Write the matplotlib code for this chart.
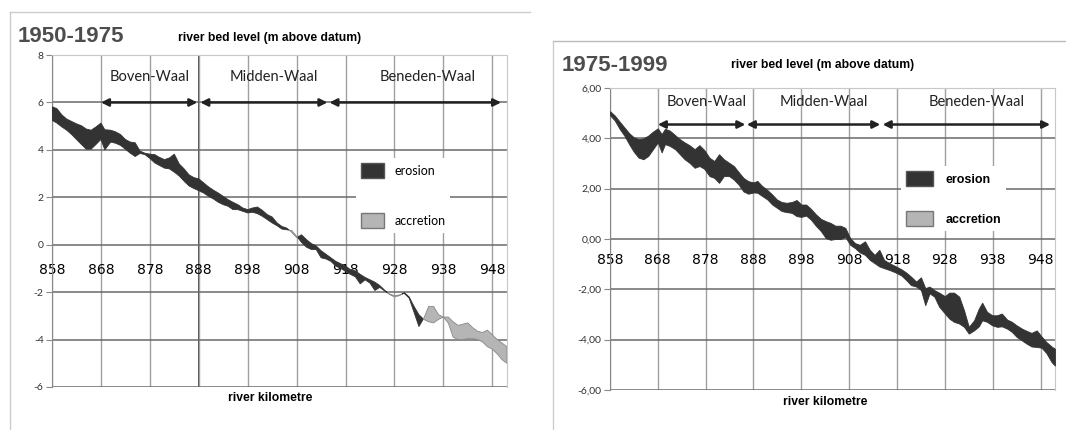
import matplotlib
matplotlib.use('Agg')
import matplotlib.pyplot as plt
from matplotlib.patches import Patch
from matplotlib.lines import Line2D

# ---- data (river km, bed level m above datum) ----
km_a = [858, 859, 860, 861, 862, 863, 864, 865, 866, 867, 868, 868.8, 870, 871,
        872, 873, 874, 875, 876, 877, 878, 879, 880, 881, 882, 883, 884, 885,
        886, 887, 888, 889, 890, 891, 892, 893, 894, 895, 896, 897, 898, 899,
        900, 901, 902, 903, 904, 905, 906, 907, 908, 909, 910, 911, 912, 913,
        914, 915, 916, 917, 918, 919, 920, 921, 922, 923, 924, 925, 926, 927,
        928, 929, 930, 931, 932, 933, 934, 935, 936, 937, 938, 939, 940, 941,
        942, 943, 944, 945, 946, 947, 948, 949, 950, 951]
level_1950 = [5.82, 5.74, 5.48, 5.30, 5.20, 5.10, 5.02, 4.88, 4.83, 4.97, 5.13,
              4.85, 4.83, 4.76, 4.65, 4.44, 4.33, 4.30, 3.95, 3.86, 3.82, 3.80,
              3.68, 3.59, 3.66, 3.82, 3.41, 3.20, 2.95, 2.83, 2.78, 2.61, 2.44,
              2.30, 2.18, 2.04, 1.90, 1.79, 1.69, 1.55, 1.48, 1.55, 1.59, 1.45,
              1.27, 1.17, 0.92, 0.77, 0.70, 0.52, 0.30, 0.42, 0.22, 0.05, -0.05,
              -0.25, -0.40, -0.55, -0.70, -0.80, -0.90, -1.05, -1.10, -1.25,
              -1.38, -1.48, -1.58, -1.72, -1.92, -2.10, -2.20, -2.15, -2.02,
              -2.20, -2.60, -2.95, -3.15, -3.25, -3.30, -3.15, -3.05, -3.30,
              -3.90, -4.00, -4.00, -3.95, -3.95, -4.00, -4.10, -4.30, -4.40,
              -4.60, -4.85, -5.00]
level_1975a = [5.25, 5.13, 4.97, 4.83, 4.65, 4.44, 4.23, 4.03, 4.03, 4.23, 4.44,
               4.00, 4.33, 4.28, 4.19, 4.03, 3.86, 3.72, 3.85, 3.80, 3.64, 3.45,
               3.34, 3.23, 3.20, 3.06, 2.90, 2.68, 2.48, 2.37, 2.28, 2.18, 2.04,
               1.93, 1.79, 1.69, 1.62, 1.48, 1.48, 1.41, 1.34, 1.37, 1.31, 1.20,
               1.06, 0.92, 0.80, 0.66, 0.63, 0.60, 0.36, 0.10, -0.10, -0.20,
               -0.20, -0.55, -0.60, -0.70, -0.90, -1.00, -1.12, -1.25, -1.35,
               -1.65, -1.48, -1.62, -1.93, -1.80, -1.95, -2.08, -2.15, -2.12,
               -2.05, -2.25, -2.85, -3.45, -3.10, -2.60, -2.60, -2.95, -3.05,
               -3.05, -3.25, -3.40, -3.35, -3.30, -3.50, -3.65, -3.70, -3.60,
               -3.80, -4.00, -4.15, -4.30]

km_b = [858, 859, 860, 861, 862, 863, 864, 865, 866, 867, 868, 868.8, 869.5,
        870.5, 871.6, 872.6, 873.6, 874.6, 875.7, 876.7, 877.7, 878.8, 879.8,
        880.8, 881.8, 882.9, 883.9, 884.9, 885.9, 886.9, 888, 888.8, 889.8,
        890.9, 891.9, 892.9, 893.9, 894.9, 896, 897, 898, 899, 900, 901.1,
        902.1, 903.1, 904.1, 905.1, 906.2, 907.2, 908.2, 909.2, 910.2, 911.3,
        912.3, 913.3, 914.3, 915.3, 916.4, 917.7, 918.9, 919.9, 920.9, 922,
        923, 923.9, 924.8, 925.8, 926.8, 928, 928.9, 929.9, 931, 932, 933,
        934.1, 935.1, 935.8, 936.8, 937.9, 938.9, 939.9, 941, 942, 943, 944.1,
        945.1, 946.1, 947.2, 948.2, 949.2, 950.3, 951]
level_1975b = [5.08, 4.91, 4.67, 4.44, 4.21, 4.04, 3.97, 4.00, 4.11, 4.27, 4.40,
               4.17, 4.38, 4.31, 4.13, 3.97, 3.84, 3.73, 3.57, 3.73, 3.54, 3.23,
               3.10, 3.37, 3.17, 3.03, 2.90, 2.66, 2.43, 2.30, 2.25, 2.31, 2.11,
               1.95, 1.77, 1.57, 1.47, 1.44, 1.47, 1.55, 1.37, 1.37, 1.20, 0.97,
               0.80, 0.71, 0.64, 0.53, 0.53, 0.44, 0.04, -0.16, -0.23, -0.09,
               -0.43, -0.63, -0.43, -0.83, -0.96, -1.08, -1.20, -1.33, -1.49,
               -1.69, -1.52, -1.95, -1.89, -2.03, -2.13, -2.27, -2.13, -2.13,
               -2.29, -2.83, -3.49, -3.23, -2.76, -2.53, -2.89, -3.03, -3.03,
               -2.96, -3.20, -3.29, -3.43, -3.56, -3.65, -3.73, -3.63, -3.87,
               -4.09, -4.27, -4.36]
level_1999 = [4.92, 4.71, 4.38, 4.11, 3.77, 3.46, 3.23, 3.17, 3.30, 3.57, 3.84,
              3.44, 3.77, 3.70, 3.57, 3.37, 3.17, 3.03, 2.83, 2.90, 2.79, 2.50,
              2.43, 2.23, 2.50, 2.50, 2.36, 2.16, 1.89, 1.80, 1.85, 1.84, 1.71,
              1.57, 1.37, 1.24, 1.11, 1.07, 1.04, 0.91, 0.88, 0.93, 0.77, 0.51,
              0.31, 0.04, -0.03, 0.00, 0.00, 0.08, -0.23, -0.36, -0.53, -0.63,
              -0.83, -0.96, -1.09, -1.16, -1.23, -1.33, -1.45, -1.63, -1.83,
              -1.89, -2.03, -2.63, -2.16, -2.29, -2.69, -2.96, -3.16, -3.29,
              -3.36, -3.49, -3.76, -3.63, -3.47, -3.23, -3.29, -3.43, -3.49,
              -3.47, -3.56, -3.69, -3.89, -4.03, -4.16, -4.27, -4.29, -4.32,
              -4.53, -4.89, -5.03]

reaches = ['Boven-Waal', 'Midden-Waal', 'Beneden-Waal']
reach_ends_a = [(868, 887.7), (888.3, 914.3), (914.7, 949.8)]
reach_label_km_a = [878, 903.3, 934.7]
reach_ends_b = [(868, 886.3), (886.6, 914.5), (915, 950)]
reach_label_km_b = [878.2, 902.6, 934.7]

xticks = list(range(858, 949, 10))

DARK = '#333333'
LIGHT = '#b5b5b5'
NARROW = ['Liberation Sans Narrow', 'Liberation Sans', 'DejaVu Sans']
BODY = ['Lato', 'DejaVu Sans']

fig = plt.figure(figsize=(10.66, 4.30), dpi=100)


def draw_panel(ax, km, old, new, yticks, ylabels, ends, label_km,
               arrow_y, text_y, label_pad, grid888=False):
    ax.fill_between(km, old, new, where=[n <= o for o, n in zip(old, new)],
                    interpolate=True, facecolor=DARK, edgecolor=DARK,
                    lw=0.6, zorder=3)
    ax.fill_between(km, old, new, where=[n > o for o, n in zip(old, new)],
                    interpolate=True, facecolor=LIGHT, edgecolor='#888888',
                    lw=0.6, zorder=3)

    ax.set_xlim(858, 951)
    ax.set_ylim(yticks[0], yticks[-1])
    ax.set_xticks(xticks)
    ax.set_yticks(yticks)
    ax.set_yticklabels(ylabels, fontsize=7.5, color='#333333', family=BODY)
    ax.set_xticklabels([str(k) for k in xticks], fontsize=8.5,
                       color='#333333', family=BODY)

    ax.grid(axis='y', color='#6a6a6a', lw=1.1, zorder=1)
    ax.grid(axis='x', color='#a0a0a0', lw=1.0, zorder=1)
    if grid888:
        ax.axvline(888, color='#3a3a3a', lw=1.3, zorder=1)

    ax.spines['bottom'].set_position(('data', 0))
    ax.spines['bottom'].set_visible(False)
    ax.tick_params(axis='x', length=0, pad=label_pad)
    ax.tick_params(axis='y', length=4, color='#888888', width=0.8, pad=2)
    ax.spines['left'].set_color('#888888')
    ax.spines['top'].set_color('#c8c8c8')
    ax.spines['right'].set_color('#c8c8c8')

    for name, (a, b), lk in zip(reaches, ends, label_km):
        ax.annotate('', xy=(b, arrow_y), xytext=(a, arrow_y),
                    arrowprops=dict(arrowstyle='<|-|>', color='#222222',
                                    lw=1.8, mutation_scale=11,
                                    shrinkA=0, shrinkB=0), zorder=4)
        ax.text(lk, text_y, name, ha='center', va='center', fontsize=10.5,
                color='#222222', family=BODY, zorder=4)


# ---- left panel: 1950-1975 ----
ax1 = fig.add_axes([0.0488, 0.10, 0.4268, 0.772])
draw_panel(ax1, km_a, level_1950, level_1975a,
           [-6, -4, -2, 0, 2, 4, 6, 8],
           ['-6', '-4', '-2', '0', '2', '4', '6', '8'],
           reach_ends_a, reach_label_km_a, 6, 7.08, 13, grid888=True)
leg1 = ax1.legend([Patch(facecolor=DARK, edgecolor='#555555'),
                   Patch(facecolor=LIGHT, edgecolor='#777777')],
                  ['erosion', 'accretion'], loc='upper left',
                  bbox_to_anchor=(0.3283, 0.6465), bbox_transform=fig.transFigure,
                  prop={'family': BODY, 'size': 9}, frameon=True,
                  facecolor='white', edgecolor='none', framealpha=1,
                  fancybox=False, handlelength=1.85, handleheight=1.45,
                  labelspacing=2.8, handletextpad=0.8, borderpad=0.4)
leg1.set_zorder(5)

fig.text(0.0169, 0.916, '1950-1975', fontsize=16, fontweight='bold',
         color='#4d4d4d', family=NARROW, va='center', ha='left')
fig.text(0.2533, 0.912, 'river bed level (m above datum)', fontsize=8.7,
         fontweight='bold', family=NARROW, ha='center', va='center')
fig.text(0.2533, 0.074, 'river kilometre', fontsize=8.7, fontweight='bold',
         family=NARROW, ha='center', va='center')

# ---- right panel: 1975-1999 ----
ax2 = fig.add_axes([0.5722, 0.093, 0.4174, 0.7023])
draw_panel(ax2, km_b, level_1975b, level_1999,
           [-6, -4, -2, 0, 2, 4, 6],
           ['-6,00', '-4,00', '-2,00', '0,00', '2,00', '4,00', '6,00'],
           reach_ends_b, reach_label_km_b, 4.55, 5.45, 10)
leg2 = ax2.legend([Patch(facecolor=DARK, edgecolor='#555555'),
                   Patch(facecolor=LIGHT, edgecolor='#777777')],
                  ['erosion', 'accretion'], loc='upper left',
                  bbox_to_anchor=(0.8396, 0.628), bbox_transform=fig.transFigure,
                  prop={'family': NARROW, 'size': 9, 'weight': 'bold'},
                  frameon=True, facecolor='white', edgecolor='none',
                  framealpha=1, fancybox=False, handlelength=2.15,
                  handleheight=1.45, labelspacing=2.0, handletextpad=1.0,
                  borderpad=0.4)
leg2.set_zorder(5)

fig.text(0.5272, 0.847, '1975-1999', fontsize=16, fontweight='bold',
         color='#4d4d4d', family=NARROW, va='center', ha='left')
fig.text(0.772, 0.849, 'river bed level (m above datum)', fontsize=8.7,
         fontweight='bold', family=NARROW, ha='center', va='center')
fig.text(0.774, 0.065, 'river kilometre', fontsize=8.7, fontweight='bold',
         family=NARROW, ha='center', va='center')

# screenshot frame lines
fig.add_artist(Line2D([0.0094, 0.497], [0.972, 0.972], color='#cccccc', lw=1))
fig.add_artist(Line2D([0.0094, 0.0094], [0.0, 0.972], color='#cccccc', lw=1))
fig.add_artist(Line2D([0.519, 1.0], [0.905, 0.905], color='#bbbbbb', lw=1))
fig.add_artist(Line2D([0.519, 0.519], [0.0, 0.905], color='#cccccc', lw=1))

fig.savefig('out.png', dpi=100)
